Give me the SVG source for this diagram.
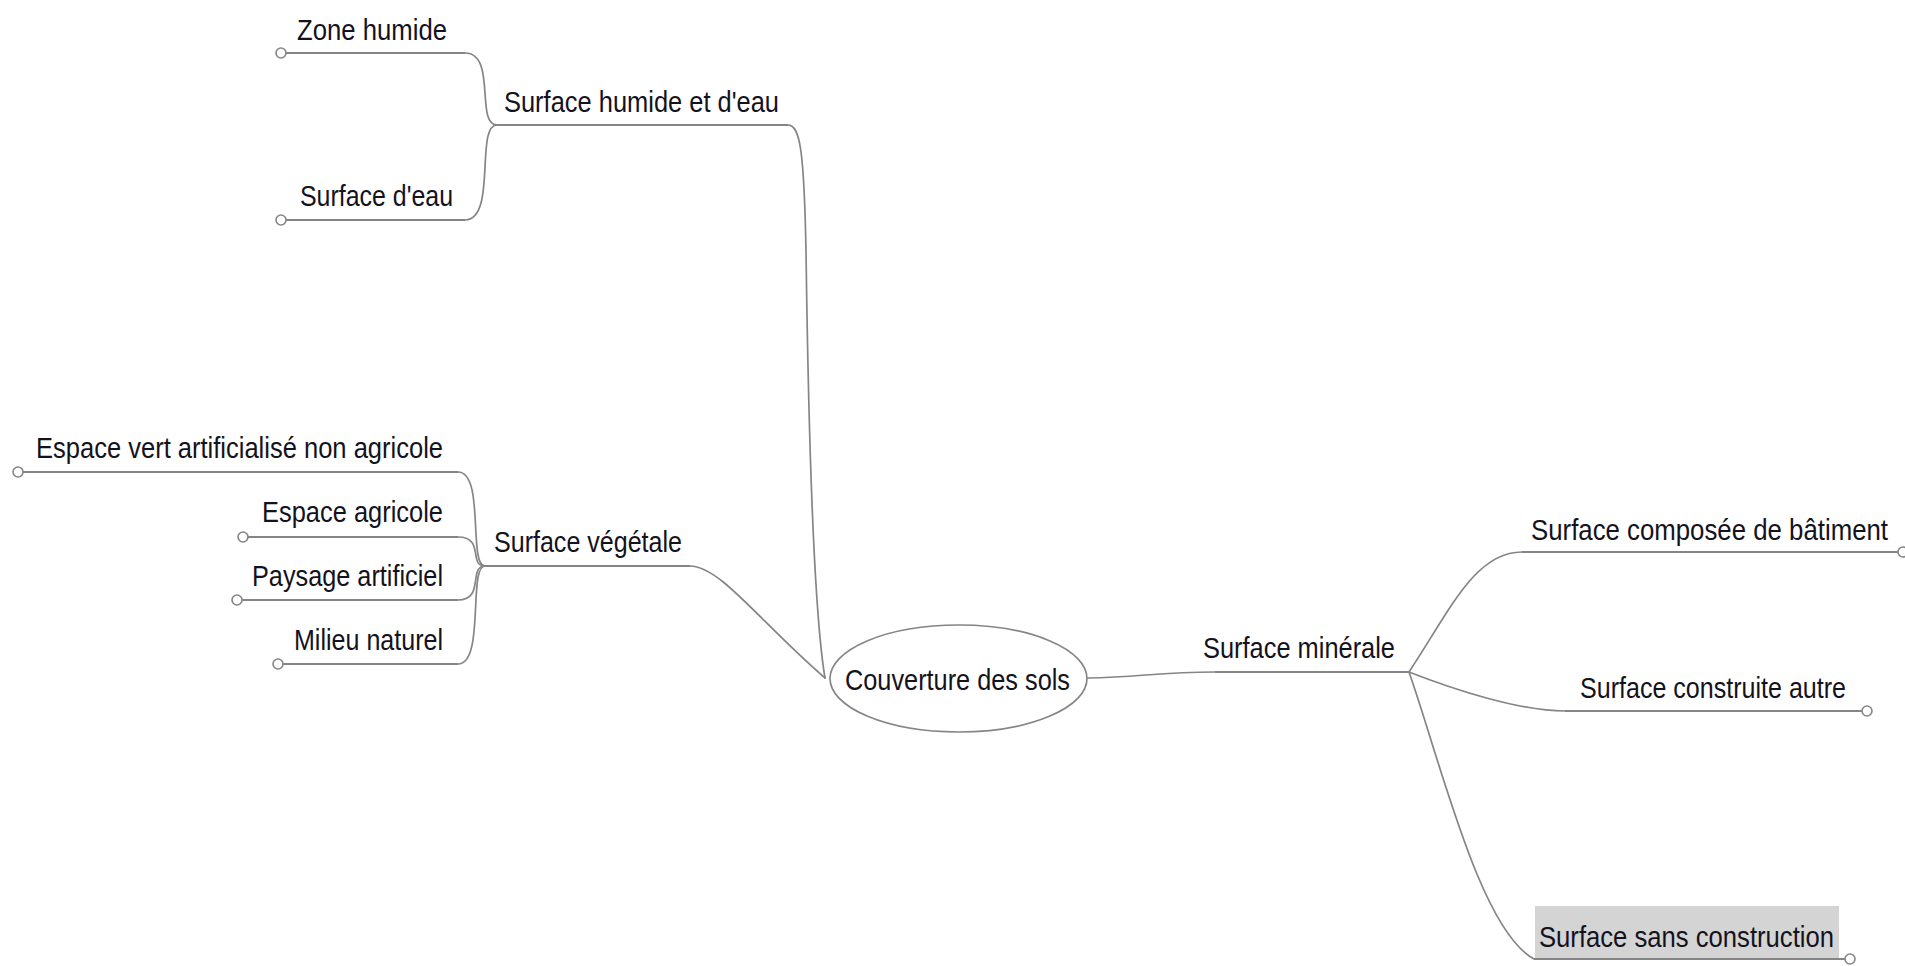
<svg xmlns="http://www.w3.org/2000/svg" width="1905" height="966" viewBox="0 0 1905 966">
  <style>
    .bg { fill: #ffffff; }
    .line { fill: none; stroke: #858585; stroke-width: 1.7; stroke-linecap: round; }
    .underline { fill: none; stroke: #858585; stroke-width: 2; }
    .expander { fill: #ffffff; stroke: #858585; stroke-width: 1.6; }
    .label { font-family: "Liberation Sans", Arial, sans-serif; font-size: 30px; fill: #14121c; }
    .root-shape { fill: #ffffff; stroke: #858585; stroke-width: 1.7; }
    .selected { fill: #d4d4d4; }
  </style>

  <rect class="bg" x="0" y="0" width="1905" height="966"/>

  <!-- connectors between parents and children -->
  <g id="connectors">
    <!-- root to first-level branches -->
    <path class="line" d="M788,125 C800,125 804,150 806,250 C808,400 812,600 825,678"/>
    <path class="line" d="M690,566 C720,566 760,622 825,678"/>
    <path class="line" d="M1088,678 C1140,677 1160,672 1215,672"/>
    <!-- Surface humide et d'eau children -->
    <path class="line" d="M497,125 C475,125 497,53 465,53"/>
    <path class="line" d="M497,125 C475,125 497,220 465,220"/>
    <!-- Surface végétale children -->
    <path class="line" d="M485,566 C468,566 485,472 458,472"/>
    <path class="line" d="M485,566 C468,566 485,537 458,537"/>
    <path class="line" d="M485,566 C468,566 485,600 458,600"/>
    <path class="line" d="M485,566 C468,566 485,664 458,664"/>
    <!-- Surface minérale children -->
    <path class="line" d="M1409,672 C1450,610 1475,552 1522,552"/>
    <path class="line" d="M1409,672 C1455,690 1520,711 1565,711"/>
    <path class="line" d="M1409,672 C1440,760 1480,930 1534,959"/>
  </g>

  <!-- root -->
  <g id="node-couverture">
    <ellipse class="root-shape" cx="958.5" cy="678.5" rx="128.5" ry="53.5"/>
    <text class="label" x="845" y="690" textLength="225" lengthAdjust="spacingAndGlyphs">Couverture des sols</text>
  </g>

  <!-- left branch: water -->
  <g id="node-surface-humide">
    <line class="underline" x1="497" y1="125" x2="788" y2="125"/>
    <text class="label" x="504" y="112" textLength="275" lengthAdjust="spacingAndGlyphs">Surface humide et d'eau</text>
  </g>
  <g id="node-zone-humide">
    <line class="underline" x1="286" y1="53" x2="465" y2="53"/>
    <circle class="expander" cx="281" cy="53" r="5"/>
    <text class="label" x="297" y="40" textLength="150" lengthAdjust="spacingAndGlyphs">Zone humide</text>
  </g>
  <g id="node-surface-eau">
    <line class="underline" x1="286" y1="220" x2="465" y2="220"/>
    <circle class="expander" cx="281" cy="220" r="5"/>
    <text class="label" x="300" y="206" textLength="153" lengthAdjust="spacingAndGlyphs">Surface d'eau</text>
  </g>

  <!-- left branch: vegetation -->
  <g id="node-surface-vegetale">
    <line class="underline" x1="485" y1="566" x2="690" y2="566"/>
    <text class="label" x="494" y="552" textLength="188" lengthAdjust="spacingAndGlyphs">Surface végétale</text>
  </g>
  <g id="node-espace-vert">
    <line class="underline" x1="23" y1="472" x2="458" y2="472"/>
    <circle class="expander" cx="18" cy="472" r="5"/>
    <text class="label" x="36" y="458" textLength="407" lengthAdjust="spacingAndGlyphs">Espace vert artificialisé non agricole</text>
  </g>
  <g id="node-espace-agricole">
    <line class="underline" x1="248" y1="537" x2="458" y2="537"/>
    <circle class="expander" cx="243" cy="537" r="5"/>
    <text class="label" x="262" y="522" textLength="181" lengthAdjust="spacingAndGlyphs">Espace agricole</text>
  </g>
  <g id="node-paysage-artificiel">
    <line class="underline" x1="242" y1="600" x2="458" y2="600"/>
    <circle class="expander" cx="237" cy="600" r="5"/>
    <text class="label" x="252" y="586" textLength="191" lengthAdjust="spacingAndGlyphs">Paysage artificiel</text>
  </g>
  <g id="node-milieu-naturel">
    <line class="underline" x1="283" y1="664" x2="458" y2="664"/>
    <circle class="expander" cx="278" cy="664" r="5"/>
    <text class="label" x="294" y="650" textLength="149" lengthAdjust="spacingAndGlyphs">Milieu naturel</text>
  </g>

  <!-- right branch: mineral -->
  <g id="node-surface-minerale">
    <line class="underline" x1="1215" y1="672" x2="1409" y2="672"/>
    <text class="label" x="1203" y="658" textLength="192" lengthAdjust="spacingAndGlyphs">Surface minérale</text>
  </g>
  <g id="node-surface-batiment">
    <line class="underline" x1="1522" y1="552" x2="1898" y2="552"/>
    <circle class="expander" cx="1903" cy="552" r="5"/>
    <text class="label" x="1531" y="540" textLength="357" lengthAdjust="spacingAndGlyphs">Surface composée de bâtiment</text>
  </g>
  <g id="node-surface-construite">
    <line class="underline" x1="1565" y1="711" x2="1862" y2="711"/>
    <circle class="expander" cx="1867" cy="711" r="5"/>
    <text class="label" x="1580" y="698" textLength="266" lengthAdjust="spacingAndGlyphs">Surface construite autre</text>
  </g>
  <g id="node-surface-sans-construction">
    <rect class="selected" x="1535" y="906" width="304" height="52"/>
    <line class="underline" x1="1534" y1="959" x2="1845" y2="959"/>
    <circle class="expander" cx="1850" cy="959" r="5"/>
    <text class="label" x="1539" y="947" textLength="295" lengthAdjust="spacingAndGlyphs">Surface sans construction</text>
  </g>
</svg>
